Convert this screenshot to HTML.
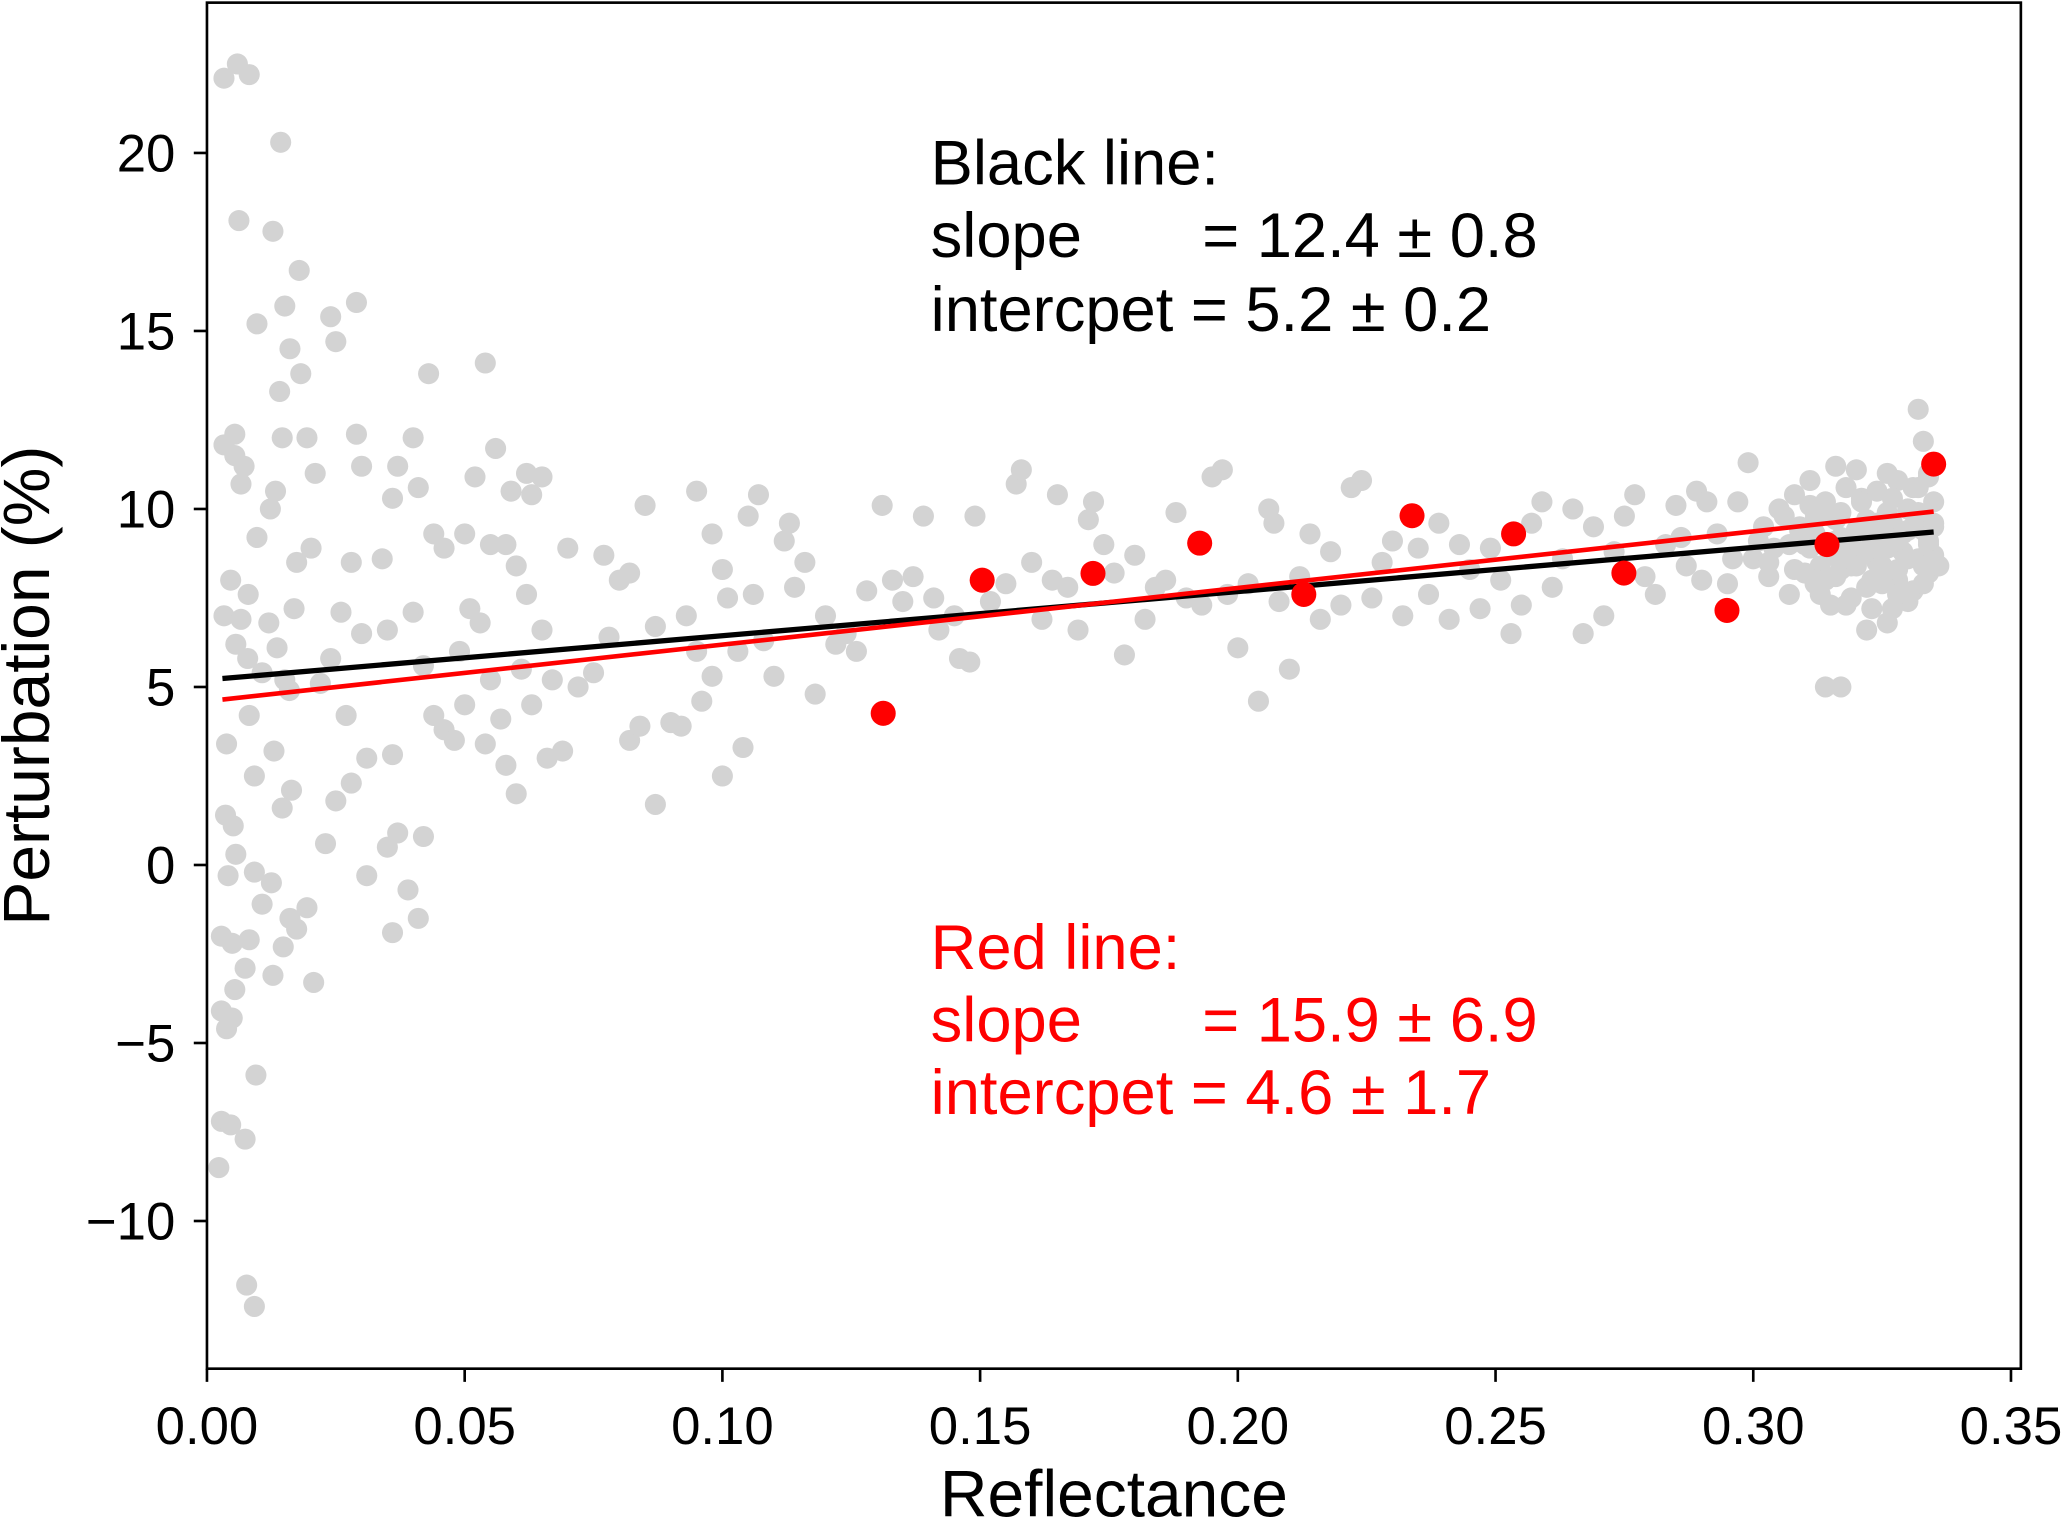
<!DOCTYPE html>
<html><head><meta charset="utf-8">
<style>
html,body{margin:0;padding:0;background:#fff;}
svg{display:block;font-family:"Liberation Sans",Arial,sans-serif;}
</style></head>
<body>
<svg id="chart" width="2067" height="1519" viewBox="0 0 1568 1152" preserveAspectRatio="none" xmlns="http://www.w3.org/2000/svg">
<rect x="0" y="0" width="1568" height="1152" fill="#fff"/>
<g id="gray-layer"></g>
<g id="line-layer"></g>
<g id="red-layer"></g>
<rect x="157" y="2" width="1376" height="1036" fill="none" stroke="#000" stroke-width="2"/>
<g id="axes"></g>
<g font-size="48" fill="#000">
<text x="706" y="140">Black line:</text>
<text x="706" y="195">slope</text><text x="912" y="195">= 12.4 ± 0.8</text>
<text x="706" y="251">intercpet = 5.2 ± 0.2</text>
</g>
<g font-size="48" fill="#ff0000">
<text x="706" y="735">Red line:</text>
<text x="706" y="790">slope</text><text x="912" y="790">= 15.9 ± 6.9</text>
<text x="706" y="845">intercpet = 4.6 ± 1.7</text>
</g>
<text x="845" y="1150" font-size="50" text-anchor="middle">Reflectance</text>
<text x="0" y="0" font-size="50" text-anchor="middle" transform="translate(37,520) rotate(-90)">Perturbation (%)</text>
</svg>
<script>
const xTicks=[0,0.05,0.10,0.15,0.20,0.25,0.30,0.35];
const xTickLabels=["0.00","0.05","0.10","0.15","0.20","0.25","0.30","0.35"];
const yTicks=[-10,-5,0,5,10,15,20];
const yTickLabels=["\u221210","\u22125","0","5","10","15","20"];
const redX=[0.1312,0.1504,0.1719,0.1926,0.2128,0.2338,0.2535,0.2749,0.2949,0.3143,0.335];
const redY=[4.26,8.0,8.19,9.04,7.6,9.81,9.3,8.2,7.15,9.0,11.26];
const blackSlope=12.4, blackIntercept=5.2;
const redSlope=15.9, redIntercept=4.6;
const lineRange=[0.003,0.335];
const grayX=[0.0033,0.0059,0.0082,0.0062,0.0143,0.0128,0.0179,0.0097,0.0151,0.0161,0.0141,0.0182,0.0146,0.0194,0.0033,0.0054,0.0054,0.0072,0.0066,0.0133,0.0123,0.0097,0.0174,0.0202,0.0046,0.0169,0.0033,0.0066,0.0056,0.0079,0.0107,0.0136,0.0151,0.0082,0.0038,0.0130,0.0092,0.0164,0.0146,0.0036,0.0051,0.0056,0.0041,0.0092,0.0125,0.0107,0.0161,0.0194,0.0028,0.0049,0.0082,0.0148,0.0174,0.0128,0.0207,0.0054,0.0074,0.0028,0.0049,0.0038,0.0095,0.0028,0.0046,0.0074,0.0023,0.0077,0.0092,0.012,0.016,0.008,
0.021,0.024,0.025,0.029,0.029,0.030,0.028,0.026,0.030,0.024,0.022,0.027,0.031,0.028,0.025,0.023,0.031,0.035,0.037,0.036,0.039,0.041,0.042,0.036,0.035,0.034,0.036,0.037,0.040,0.041,0.043,0.044,0.046,0.040,0.042,0.044,0.046,0.048,0.050,0.049,0.051,0.050,0.052,0.054,0.055,0.053,0.055,0.054,0.057,0.058,0.060,0.056,0.058,0.060,0.059,0.062,0.063,0.065,0.062,0.065,0.061,0.063,0.066,0.069,0.067,0.070,0.072,0.075,0.077,0.078,0.080,0.082,0.082,0.084,0.085,0.087,0.087,0.090,0.092,0.093,0.095,0.095,0.096,0.098,0.098,0.100,0.100,0.101,0.103,0.104,0.105,0.106,0.107,0.108,0.110,0.112,0.113,0.114,0.116,0.118,0.120,0.122,0.124,0.126,0.128,0.131,0.133,0.135,0.137,0.139,0.141,0.142,0.145,0.146,0.148,0.149,0.152,0.155,0.157,0.158,0.160,0.162,0.164,0.165,0.167,0.169,0.171,0.172,0.174,0.176,0.178,0.180,0.182,0.184,0.186,0.188,0.190,0.193,0.195,0.197,0.198,0.200,0.202,0.204,0.206,0.207,0.208,0.210,0.212,0.214,0.216,0.218,0.220,0.222,0.224,0.226,0.228,0.230,0.232,0.235,0.237,0.239,0.241,0.243,0.245,0.247,0.249,0.251,0.253,0.255,0.257,0.259,0.261,0.263,0.265,0.267,0.269,0.271,0.273,0.275,0.277,0.279,0.281,0.283,0.285,0.287,0.289,0.291,0.293,0.295,0.297,0.299,0.301,0.303,0.305,0.307,0.309,0.311,0.313,0.314,0.317,0.316,0.318,0.320,0.322,0.324,0.326,0.328,0.330,0.332,0.334,0.333,
0.300,0.302,0.304,0.306,0.308,0.310,0.312,0.315,0.317,0.319,0.321,0.323,0.325,0.327,0.329,0.331,0.333,0.335,0.318,0.322,0.326,0.330,0.334,0.312,0.308,0.320,0.324,0.328,0.332,0.335,0.316,0.326,0.330,0.334,0.328,0.322,0.296,0.290,0.286,0.331,0.327,0.323,0.319,0.315,0.311,0.307,0.303,0.329,0.325,0.321,0.333,0.335,0.317,0.313,
0.310,0.312,0.314,0.316,0.318,0.320,0.322,0.324,0.326,0.328,0.330,0.332,0.334,0.311,0.313,0.315,0.317,0.319,0.321,0.323,0.325,0.327,0.329,0.331,0.333,0.335,0.309,0.314,0.318,0.322,0.326,0.330,0.334,0.320,0.324,0.328,0.332,0.316,0.312,0.336];
const grayY=[22.1,22.5,22.2,18.1,20.3,17.8,16.7,15.2,15.7,14.5,13.3,13.8,12.0,12.0,11.8,11.5,12.1,11.2,10.7,10.5,10.0,9.2,8.5,8.9,8.0,7.2,7.0,6.9,6.2,5.8,5.4,6.1,5.2,4.2,3.4,3.2,2.5,2.1,1.6,1.4,1.1,0.3,-0.3,-0.2,-0.5,-1.1,-1.5,-1.2,-2.0,-2.2,-2.1,-2.3,-1.8,-3.1,-3.3,-3.5,-2.9,-4.1,-4.3,-4.6,-5.9,-7.2,-7.3,-7.7,-8.5,-11.8,-12.4,6.8,4.9,7.6,
11.0,15.4,14.7,15.8,12.1,11.2,8.5,7.1,6.5,5.8,5.1,4.2,3.0,2.3,1.8,0.6,-0.3,0.5,0.9,-1.9,-0.7,-1.5,0.8,3.1,6.6,8.6,10.3,11.2,12.0,10.6,13.8,9.3,8.9,7.1,5.6,4.2,3.8,3.5,4.5,6.0,7.2,9.3,10.9,14.1,9.0,6.8,5.2,3.4,4.1,2.8,2.0,11.7,9.0,8.4,10.5,11.0,10.4,10.9,7.6,6.6,5.5,4.5,3.0,3.2,5.2,8.9,5.0,5.4,8.7,6.4,8.0,8.2,3.5,3.9,10.1,6.7,1.7,4.0,3.9,7.0,10.5,6.0,4.6,9.3,5.3,8.3,2.5,7.5,6.0,3.3,9.8,7.6,10.4,6.3,5.3,9.1,9.6,7.8,8.5,4.8,7.0,6.2,6.5,6.0,7.7,10.1,8.0,7.4,8.1,9.8,7.5,6.6,7.0,5.8,5.7,9.8,7.4,7.9,10.7,11.1,8.5,6.9,8.0,10.4,7.8,6.6,9.7,10.2,9.0,8.2,5.9,8.7,6.9,7.8,8.0,9.9,7.5,7.3,10.9,11.1,7.6,6.1,7.9,4.6,10.0,9.6,7.4,5.5,8.1,9.3,6.9,8.8,7.3,10.6,10.8,7.5,8.5,9.1,7.0,8.9,7.6,9.6,6.9,9.0,8.3,7.2,8.9,8.0,6.5,7.3,9.6,10.2,7.8,8.6,10.0,6.5,9.5,7.0,8.8,9.8,10.4,8.1,7.6,9.0,10.1,8.4,10.5,10.2,9.3,7.9,10.2,11.3,9.1,8.1,10.0,7.6,9.4,10.8,8.4,5.0,5.0,11.2,7.3,9.4,6.6,8.5,11.0,8.0,10.0,12.8,9.0,11.9,
8.6,9.5,8.9,9.8,8.3,9.0,9.7,8.7,9.9,8.4,10.3,9.2,7.9,9.6,8.8,10.6,9.4,10.2,10.6,7.8,9.9,7.4,8.2,7.9,10.4,11.1,10.5,9.1,9.9,8.7,8.1,6.8,8.6,10.9,10.8,9.7,8.6,8.0,9.2,7.7,7.2,8.0,7.5,7.3,8.9,9.0,8.5,9.3,8.4,8.8,7.9,9.5,9.2,10.0,
8.2,9.3,8.0,9.1,8.9,8.5,8.8,9.6,9.2,8.3,9.4,8.6,9.1,10.1,7.6,9.8,8.3,9.0,10.2,7.2,8.1,10.3,7.7,9.5,8.4,9.6,9.5,10.2,8.6,9.4,8.9,10.0,11.0,8.4,8.9,7.6,10.6,9.7,9.9,8.4];

const X0=157, PX_PER=3910, Y0=656, PY_PER=27;
function sx(v){return X0+v*PX_PER;}
function sy(v){return Y0-v*PY_PER;}
const NS="http://www.w3.org/2000/svg";
function mk(tag,attrs,parent){const e=document.createElementNS(NS,tag);for(const k in attrs)e.setAttribute(k,attrs[k]);parent.appendChild(e);return e;}

const gl=document.getElementById('gray-layer');
for(let i=0;i<grayX.length;i++){
  const c=mk('circle',{cx:sx(grayX[i]),cy:sy(grayY[i]),r:8,fill:'#d3d3d3'},gl);
  
  
}
const ll=document.getElementById('line-layer');
const bl=mk('line',{x1:sx(lineRange[0]),y1:sy(blackIntercept+blackSlope*lineRange[0]),x2:sx(lineRange[1]),y2:sy(blackIntercept+blackSlope*lineRange[1]),stroke:'#000','stroke-width':4},ll);


const rl=mk('line',{x1:sx(lineRange[0]),y1:sy(redIntercept+redSlope*lineRange[0]),x2:sx(lineRange[1]),y2:sy(redIntercept+redSlope*lineRange[1]),stroke:'#ff0000','stroke-width':3.5},ll);


const rd=document.getElementById('red-layer');
for(let i=0;i<redX.length;i++){
  const c=mk('circle',{cx:sx(redX[i]),cy:sy(redY[i]),r:9.5,fill:'#ff0000'},rd);
  
  
}
const ax=document.getElementById('axes');
for(let i=0;i<xTicks.length;i++){
  const x=sx(xTicks[i]);
  const t=mk('line',{x1:x,y1:1038,x2:x,y2:1048,stroke:'#000','stroke-width':2},ax);
  
  
  const l=mk('text',{x:x,y:1095,'font-size':40,'text-anchor':'middle'},ax);
  l.textContent=xTickLabels[i];
  
  
}
for(let i=0;i<yTicks.length;i++){
  const y=sy(yTicks[i]);
  const t=mk('line',{x1:147,y1:y,x2:157,y2:y,stroke:'#000','stroke-width':2},ax);
  
  
  const l=mk('text',{x:133,y:y+14,'font-size':40,'text-anchor':'end'},ax);
  l.textContent=yTickLabels[i];
  
  
}
</script>
</body></html>
